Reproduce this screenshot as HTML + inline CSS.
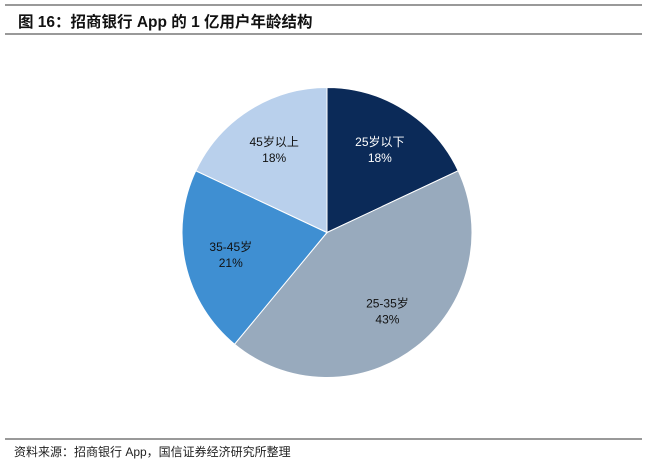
<!DOCTYPE html>
<html><head><meta charset="utf-8">
<style>
body{margin:0;width:660px;height:467px;background:#fff;overflow:hidden;font-family:"Liberation Sans","Noto Sans CJK SC",sans-serif;}
svg{display:block}
</style></head>
<body>
<svg width="660" height="467" viewBox="0 0 660 467">
<line x1="5" y1="5" x2="642" y2="5" stroke="#333" stroke-width="1"/>
<text x="18" y="27" font-size="15.5" font-weight="bold" fill="#111">图 16：招商银行 App 的 1 亿用户年龄结构</text>
<line x1="5" y1="34" x2="642" y2="34" stroke="#333" stroke-width="1"/>
<g id="pie"></g>
<line x1="5" y1="439" x2="642" y2="439" stroke="#333" stroke-width="1"/>
<text x="14" y="456" font-size="12" fill="#222">资料来源：招商银行 App，国信证券经济研究所整理</text>
</svg>
<script>
const categories = ["25岁以下","25-35岁","35-45岁","45岁以上"];
const values = [18,43,21,18];
const labels = ["18%","43%","21%","18%"];
const colors = ["#0b2a58","#98aabd","#3f8fd2","#b9d0ec"];
const labelColors = ["#fff","#111","#111","#111"];
const cx=327, cy=232.5, r=145;
const g=document.getElementById('pie');
const ns="http://www.w3.org/2000/svg";
const total=values.reduce((a,b)=>a+b,0);
let a0=0;
values.forEach((v,i)=>{
  const a1=a0+v/total*2*Math.PI;
  const x0=cx+r*Math.sin(a0), y0=cy-r*Math.cos(a0);
  const x1=cx+r*Math.sin(a1), y1=cy-r*Math.cos(a1);
  const p=document.createElementNS(ns,'path');
  p.setAttribute('d',`M${cx},${cy}L${x0},${y0}A${r},${r} 0 ${a1-a0>Math.PI?1:0} 1 ${x1},${y1}Z`);
  p.setAttribute('fill',colors[i]);
  p.setAttribute('stroke','#fff');
  p.setAttribute('stroke-width','1');
  
  
  g.appendChild(p);
  const am=(a0+a1)/2, lr=r*0.68;
  const lx=cx+lr*Math.sin(am), ly=cy-lr*Math.cos(am);
  [categories[i],labels[i]].forEach((t,k)=>{
    const tx=document.createElementNS(ns,'text');
    tx.setAttribute('x',lx);
    tx.setAttribute('y',ly-3+k*16);
    tx.setAttribute('text-anchor','middle');
    tx.setAttribute('font-size','12');
    tx.setAttribute('fill',labelColors[i]);
    tx.textContent=t;
    
    
    g.appendChild(tx);
  });
  a0=a1;
});
</script>
</body></html>
